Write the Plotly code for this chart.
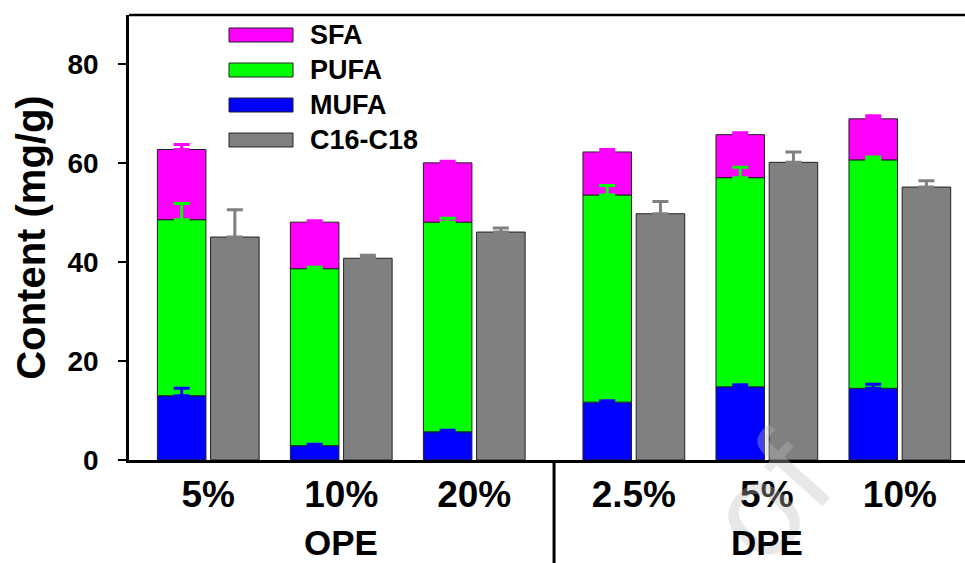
import plotly.graph_objects as go

# ---- data (mg/g) ----
groups = ["OPE", "OPE", "OPE", "DPE", "DPE", "DPE"]
doses = ["5%", "10%", "20%", "2.5%", "5%", "10%"]

mufa = [13.0, 2.9, 5.7, 11.7, 14.8, 14.5]
mufa_err = [1.5, 0.3, 0.3, 0.3, 0.4, 0.8]
pufa = [35.6, 35.8, 42.4, 41.9, 42.3, 46.2]
pufa_err = [3.3, 0.3, 0.8, 1.9, 2.1, 0.6]
sfa = [14.2, 9.4, 12.0, 8.7, 8.7, 8.3]
sfa_err = [1.0, 0.3, 0.3, 0.5, 0.4, 0.6]
c16_c18 = [45.1, 40.8, 46.1, 49.8, 60.2, 55.2]
c16_c18_err = [5.5, 0.6, 0.8, 2.5, 2.1, 1.3]

series_names = ["SFA", "PUFA", "MUFA", "C16-C18"]
colors = {"SFA": "#FF00FF", "PUFA": "#00FF00", "MUFA": "#0000FF", "C16-C18": "#808080"}

# ---- layout geometry ----
W, H = 965, 563
ML, MR, MT, MB = 129, 0, 15, 103
n = len(doses)
pos = [i + (0.2 if i >= 3 else 0.0) for i in range(n)]  # extra gap between OPE and DPE
off = 0.2
bw = 0.365
x_stack = [p - off for p in pos]
x_gray = [p + off for p in pos]

FONT = "Liberation Sans, Arial, sans-serif"
edge = dict(color="#222222", width=1)

fig = go.Figure()

# stacked bars: MUFA, PUFA, SFA
base_pufa = mufa
base_sfa = [a + b for a, b in zip(mufa, pufa)]
fig.add_trace(go.Bar(x=x_stack, y=mufa, width=bw, marker=dict(color=colors["MUFA"], line=edge), name="MUFA"))
fig.add_trace(go.Bar(x=x_stack, y=pufa, base=base_pufa, width=bw, marker=dict(color=colors["PUFA"], line=edge), name="PUFA"))
fig.add_trace(go.Bar(x=x_stack, y=sfa, base=base_sfa, width=bw, marker=dict(color=colors["SFA"], line=edge), name="SFA"))
fig.add_trace(go.Bar(x=x_gray, y=c16_c18, width=bw, marker=dict(color=colors["C16-C18"], line=edge), name="C16-C18"))

# error bars drawn above all bars, at each segment's top
tops = {
    "MUFA": (x_stack, mufa, mufa_err),
    "PUFA": (x_stack, [a + b for a, b in zip(mufa, pufa)], pufa_err),
    "SFA": (x_stack, [a + b + c for a, b, c in zip(mufa, pufa, sfa)], sfa_err),
    "C16-C18": (x_gray, c16_c18, c16_c18_err),
}
for name, (xs, ys, es) in tops.items():
    fig.add_trace(go.Scatter(
        x=xs, y=ys, mode="markers",
        marker=dict(size=1, color="rgba(0,0,0,0)"),
        error_y=dict(type="data", array=es, arrayminus=[0] * len(es), symmetric=False,
                     color=colors[name], thickness=3, width=8),
        hoverinfo="skip", showlegend=False,
    ))

plot_w = W - ML - MR
plot_h = H - MT - MB

def px_x(p):
    return (p - ML) / plot_w

def px_y(p):
    return (H - MB - p) / plot_h

shapes = []
annotations = []

# frame top line
shapes.append(dict(type="line", xref="paper", yref="paper", x0=0, x1=1, y0=1, y1=1,
                   line=dict(color="black", width=2.5)))

# separator between the two groups, below the axis
sep_x = (pos[2] + pos[3]) / 2
shapes.append(dict(type="line", xref="x", yref="paper", x0=sep_x, x1=sep_x, y0=0, y1=-MB / plot_h,
                   line=dict(color="black", width=3)))

# faint overlay mark
annotations.append(dict(x=px_x(768), y=px_y(498), xref="paper", yref="paper",
                        text="of", showarrow=False, textangle=-48,
                        xanchor="center", yanchor="middle",
                        font=dict(family=FONT, size=132, color="rgba(190,190,190,0.35)")))

# group labels
for g in ["OPE", "DPE"]:
    xs = [p for p, gg in zip(pos, groups) if gg == g]
    annotations.append(dict(x=sum(xs) / len(xs), y=px_y(542), xref="x", yref="paper",
                            text=g, showarrow=False, xanchor="center", yanchor="middle",
                            font=dict(family=FONT, size=35, color="black", weight="bold")))

# legend
leg_y = [35, 70, 105, 140]
for name, yc in zip(series_names, leg_y):
    shapes.append(dict(type="rect", xref="paper", yref="paper",
                       x0=px_x(229), x1=px_x(293), y0=px_y(yc + 7), y1=px_y(yc - 7),
                       fillcolor=colors[name], line=dict(color="#222222", width=1)))
    annotations.append(dict(x=px_x(308), y=px_y(yc), xref="paper", yref="paper",
                            text=name, showarrow=False, xanchor="left", yanchor="middle",
                            font=dict(family=FONT, size=27, color="black", weight="bold")))

fig.update_layout(
    width=W, height=H,
    margin=dict(l=ML, r=MR, t=MT, b=MB, pad=0),
    paper_bgcolor="white", plot_bgcolor="white",
    barmode="overlay", showlegend=False,
    shapes=shapes, annotations=annotations,
    font=dict(family=FONT, color="black"),
)
fig.update_xaxes(
    range=[-0.596, 5.69], tickvals=pos, ticktext=doses,
    showline=True, linecolor="black", linewidth=2.5, ticks="",
    showgrid=False, zeroline=False,
    tickfont=dict(family=FONT, size=37, color="black", weight="bold"),
    ticklabelstandoff=0,
)
fig.update_yaxes(
    range=[0, 90], tickvals=[0, 20, 40, 60, 80],
    showline=True, linecolor="black", linewidth=2.5,
    ticks="outside", ticklen=8, tickwidth=2, tickcolor="black",
    showgrid=False, zeroline=False,
    tickfont=dict(family=FONT, size=28, color="black", weight="bold"),
    ticklabelstandoff=14,
    title=dict(text="Content (mg/g)", standoff=10,
               font=dict(family=FONT, size=40, color="black", weight="bold")),
)

fig.write_html("out.html")
